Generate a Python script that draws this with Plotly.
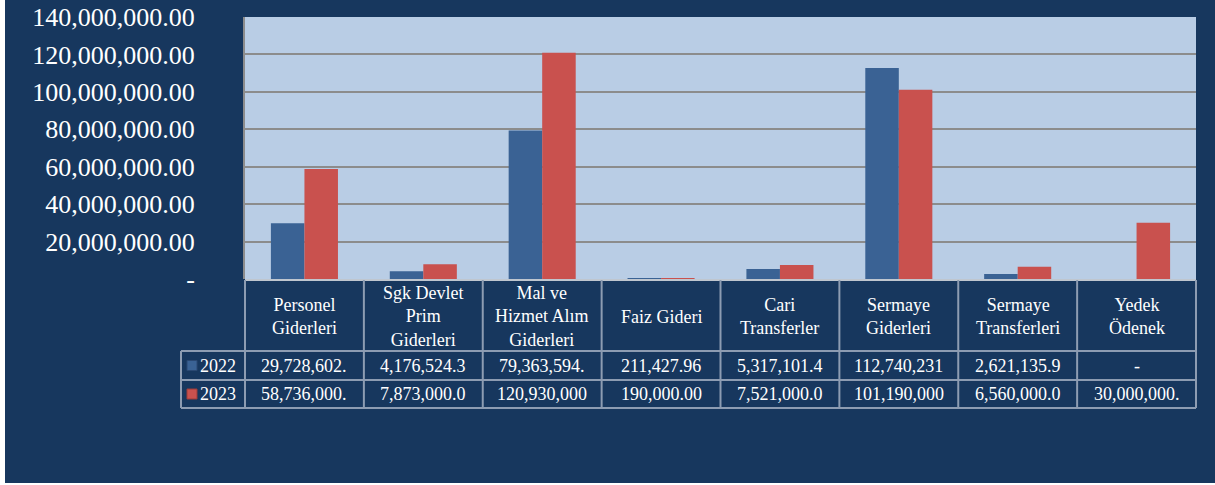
import plotly.graph_objects as go

# Data
categories = ["Personel Giderleri", "Sgk Devlet Prim Giderleri", "Mal ve Hizmet Alım Giderleri",
              "Faiz Gideri", "Cari Transferler", "Sermaye Giderleri",
              "Sermaye Transferleri", "Yedek Ödenek"]
header_labels = ["Personel<br>Giderleri", "Sgk Devlet<br>Prim<br>Giderleri",
                 "Mal ve<br>Hizmet Alım<br>Giderleri", "Faiz Gideri",
                 "Cari<br>Transferler", "Sermaye<br>Giderleri",
                 "Sermaye<br>Transferleri", "Yedek<br>Ödenek"]
years = ["2022", "2023"]
values_2022 = [29728602.00, 4176524.30, 79363594.00, 211427.96,
               5317101.40, 112740231.00, 2621135.90, 0]
values_2023 = [58736000.00, 7873000.00, 120930000.00, 190000.00,
               7521000.00, 101190000.00, 6560000.00, 30000000.00]
y_ticks = [0, 20e6, 40e6, 60e6, 80e6, 100e6, 120e6, 140e6]

# Style
navy = '#17375E'
plot_bg = '#B9CDE5'
grid_color = '#8C8C8C'
table_line = '#8D9CB2'
colors = {'2022': '#3A6294', '2023': '#C9514E'}
outline = {'2022': '#2A4872', '2023': '#9C3C39'}
serif = "Liberation Serif"

W, H = 1215, 485
M_L, M_R, M_T, M_B = 0, 19, 17, 77
PW = W - M_L - M_R
PH = H - M_T - M_B


def px(x):
    return (x - M_L) / PW


def py(y):
    return (H - M_B - y) / PH


def cell_text(v):
    # Excel clips the number to the column width
    if v == 0:
        return "-"
    return f"{v:,.2f}"[:11]


def tick_text(v):
    return "-" if v == 0 else f"{v:,.2f}"


fig = go.Figure()
for year, vals in zip(years, [values_2022, values_2023]):
    fig.add_trace(go.Bar(
        x=categories, y=vals, name=year,
        marker=dict(color=colors[year], line=dict(width=0)),
    ))

# table geometry (pixels)
plot_left, plot_bottom = 245, 279
leg_left = 181
t_top, r1, r2, t_bot = 280, 351, 380, 408

shapes = []
# white frame edges
shapes.append(dict(type='rect', xref='paper', yref='paper', x0=px(-5), x1=px(5), y0=py(-5), y1=py(H + 5),
                   fillcolor='white', line_width=0, layer='below'))
shapes.append(dict(type='rect', xref='paper', yref='paper', x0=px(-5), x1=px(W + 5), y0=py(483), y1=py(H + 5),
                   fillcolor='white', line_width=0, layer='below'))
# table lines
line = dict(color=table_line, width=2)
shapes.append(dict(type='line', xref='paper', yref='paper', x0=px(plot_left), x1=1,
                   y0=py(t_top), y1=py(t_top), line=dict(color='#BFC6CF', width=2)))
for yy in [r1, r2, t_bot]:
    shapes.append(dict(type='line', xref='paper', yref='paper', x0=px(leg_left), x1=1,
                       y0=py(yy), y1=py(yy), line=line))
shapes.append(dict(type='line', xref='paper', yref='paper', x0=px(leg_left), x1=px(leg_left),
                   y0=py(r1), y1=py(t_bot), line=line))
for xx in [px(plot_left), 1]:
    shapes.append(dict(type='line', xref='paper', yref='paper', x0=xx, x1=xx,
                       y0=py(t_top), y1=py(t_bot), line=line))
for i in range(len(categories) - 1):
    shapes.append(dict(type='line', xref='x', yref='paper', x0=i + 0.5, x1=i + 0.5,
                       y0=py(t_top), y1=py(t_bot), line=line))

cell_font = dict(family=serif, size=18, color='white')
annotations = []
for cat, lab, v1, v2 in zip(categories, header_labels, values_2022, values_2023):
    annotations.append(dict(x=cat, xref='x', y=py((t_top + r1) / 2 + 1), yref='paper', text=lab,
                            showarrow=False, font=cell_font, yanchor='middle', align='center'))
    annotations.append(dict(x=cat, xref='x', y=py((r1 + r2) / 2), yref='paper', text=cell_text(v1),
                            showarrow=False, font=cell_font, yanchor='middle'))
    annotations.append(dict(x=cat, xref='x', y=py((r2 + t_bot) / 2), yref='paper', text=cell_text(v2),
                            showarrow=False, font=cell_font, yanchor='middle'))

# legend keys inside the table
for year, yy in zip(years, [(r1 + r2) / 2, (r2 + t_bot) / 2]):
    shapes.append(dict(type='rect', xref='paper', yref='paper', x0=px(187), x1=px(197),
                       y0=py(yy + 5), y1=py(yy - 5), fillcolor=colors[year],
                       line=dict(color=outline[year], width=1)))
    annotations.append(dict(x=px(198), xref='paper', y=py(yy), yref='paper', text=year,
                            showarrow=False, font=cell_font, xanchor='left', yanchor='middle'))

fig.update_layout(
    width=W, height=H,
    margin=dict(l=M_L, r=M_R, t=M_T, b=M_B, pad=0),
    paper_bgcolor=navy,
    plot_bgcolor=plot_bg,
    showlegend=False,
    bargap=0.436,
    bargroupgap=0,
    shapes=shapes,
    annotations=annotations,
    xaxis=dict(domain=[px(plot_left), 1], showticklabels=False, ticks='', showgrid=False,
               zeroline=False, showline=False),
    yaxis=dict(domain=[py(plot_bottom), 1], range=[0, 140e6], tickvals=y_ticks,
               ticktext=[tick_text(v) for v in y_ticks], ticks='', ticklabelstandoff=43,
               showgrid=True, gridcolor=grid_color, gridwidth=2, zeroline=False,
               showline=True, linecolor=grid_color, linewidth=2,
               tickfont=dict(family=serif, size=26, color='white')),
)

fig.write_html("out.html", config={'displayModeBar': False},
               post_script="document.body.style.margin='0';")
